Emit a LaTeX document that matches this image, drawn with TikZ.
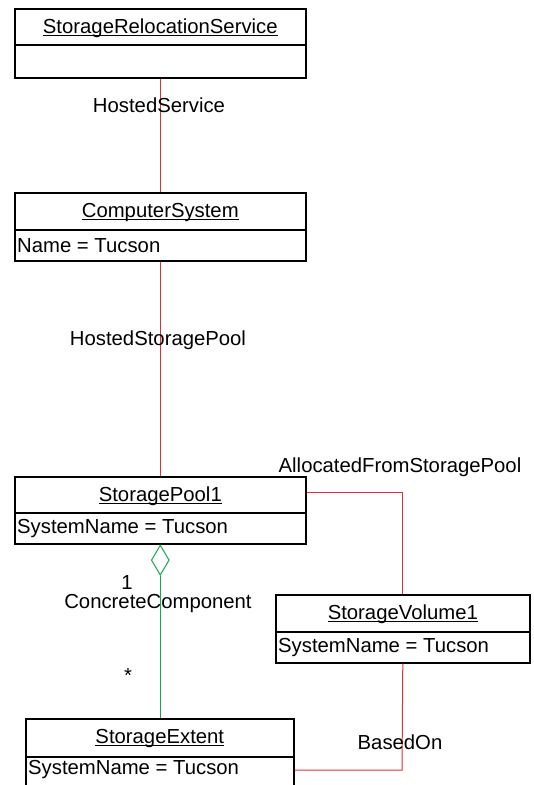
\documentclass[tikz,border=0pt]{standalone}
\usepackage{fontspec}
\setmainfont{Liberation Sans}
\usetikzlibrary{shapes.geometric}
\definecolor{relred}{RGB}{228,48,48}
\definecolor{aggreen}{RGB}{20,170,80}
\newcommand{\myul}[1]{\setbox0\hbox{#1}\rlap{\rule[-2.6pt]{\wd0}{1pt}}\box0}
\tikzset{
  boxpart/.style={draw=black, line width=1.6pt, rectangle, anchor=north west, inner sep=0pt, minimum height=#1},
  titletext/.style={anchor=center, inner sep=0pt},
  attrtext/.style={anchor=west, inner sep=0pt},
  lbl/.style={inner sep=0pt, anchor=center},
  relline/.style={draw=relred, line width=1pt},
  agline/.style={draw=aggreen, line width=1pt},
}
\begin{document}
\begin{tikzpicture}[x=1pt,y=-1pt,font=\fontsize{20.3}{23}\selectfont]
\useasboundingbox (0,0) rectangle (534,785);
\clip (0,0) rectangle (534,785);
% StorageRelocationService
\node[boxpart=36pt, minimum width=291pt] (srsT) at (14,8) {};
\node[boxpart=33pt, minimum width=291pt] (srsB) at (14,44) {};
\node[titletext] (srsL) at ([yshift=-1pt]srsT.center) {\myul{StorageRelocationService}};
% ComputerSystem
\node[boxpart=37pt, minimum width=291pt] (csT) at (14,192) {};
\node[boxpart=31pt, minimum width=291pt] (csB) at (14,229) {};
\node[titletext] (csL) at ([yshift=-1pt]csT.center) {\myul{ComputerSystem}};
\node[attrtext] (csA) at ([xshift=3pt]csB.west) {Name = Tucson};
% StoragePool1
\node[boxpart=36pt, minimum width=291pt] (spT) at (14,476) {};
\node[boxpart=31pt, minimum width=291pt] (spB) at (14,512) {};
\node[titletext] (spL) at ([yshift=-1pt]spT.center) {\myul{StoragePool1}};
\node[attrtext] (spA) at ([xshift=3pt]spB.west) {SystemName = Tucson};
% StorageVolume1
\node[boxpart=37pt, minimum width=254pt] (svT) at (275,594) {};
\node[boxpart=31pt, minimum width=254pt] (svB) at (275,631) {};
\node[titletext] (svL) at ([yshift=-1pt]svT.center) {\myul{StorageVolume1}};
\node[attrtext] (svA) at ([xshift=3pt]svB.west) {SystemName = Tucson};
% StorageExtent
\node[boxpart=38pt, minimum width=268pt] (seT) at (25,718) {};
\node[boxpart=44pt, minimum width=268pt] (seB) at (25,756) {};
\node[titletext] (seL) at ([yshift=-1pt]seT.center) {\myul{StorageExtent}};
\node[attrtext] (seA) at (28,770) {SystemName = Tucson};
% connectors
\draw[relline] (srsB.south) -- (csT.north);
\node[lbl] (hs) at (159,105) {HostedService};
\draw[relline] (csB.south) -- (spT.north);
\node[lbl] (hsp) at (158,340) {HostedStoragePool};
\draw[relline] ([yshift=2pt]spT.east) -| (svT.north);
\node[lbl] (afsp) at (400,467) {AllocatedFromStoragePool};
\node[diamond, draw=aggreen, line width=1pt, minimum width=18pt, minimum height=30pt, inner sep=0pt, anchor=north] (dia) at (spB.south) {};
\draw[agline] (dia.south) -- (dia.south |- seT.north);
\node[lbl] (one) at (127,583) {1};
\node[lbl] (cc) at (158,604) {ConcreteComponent};
\node[lbl] (star) at (128,676) {*};
\coordinate (bo) at (402,770);
\draw[relline] (svB.south) -- (bo) -- (bo -| seB.east);
\node[lbl] (based) at (400,742) {BasedOn};
\end{tikzpicture}
\end{document}
